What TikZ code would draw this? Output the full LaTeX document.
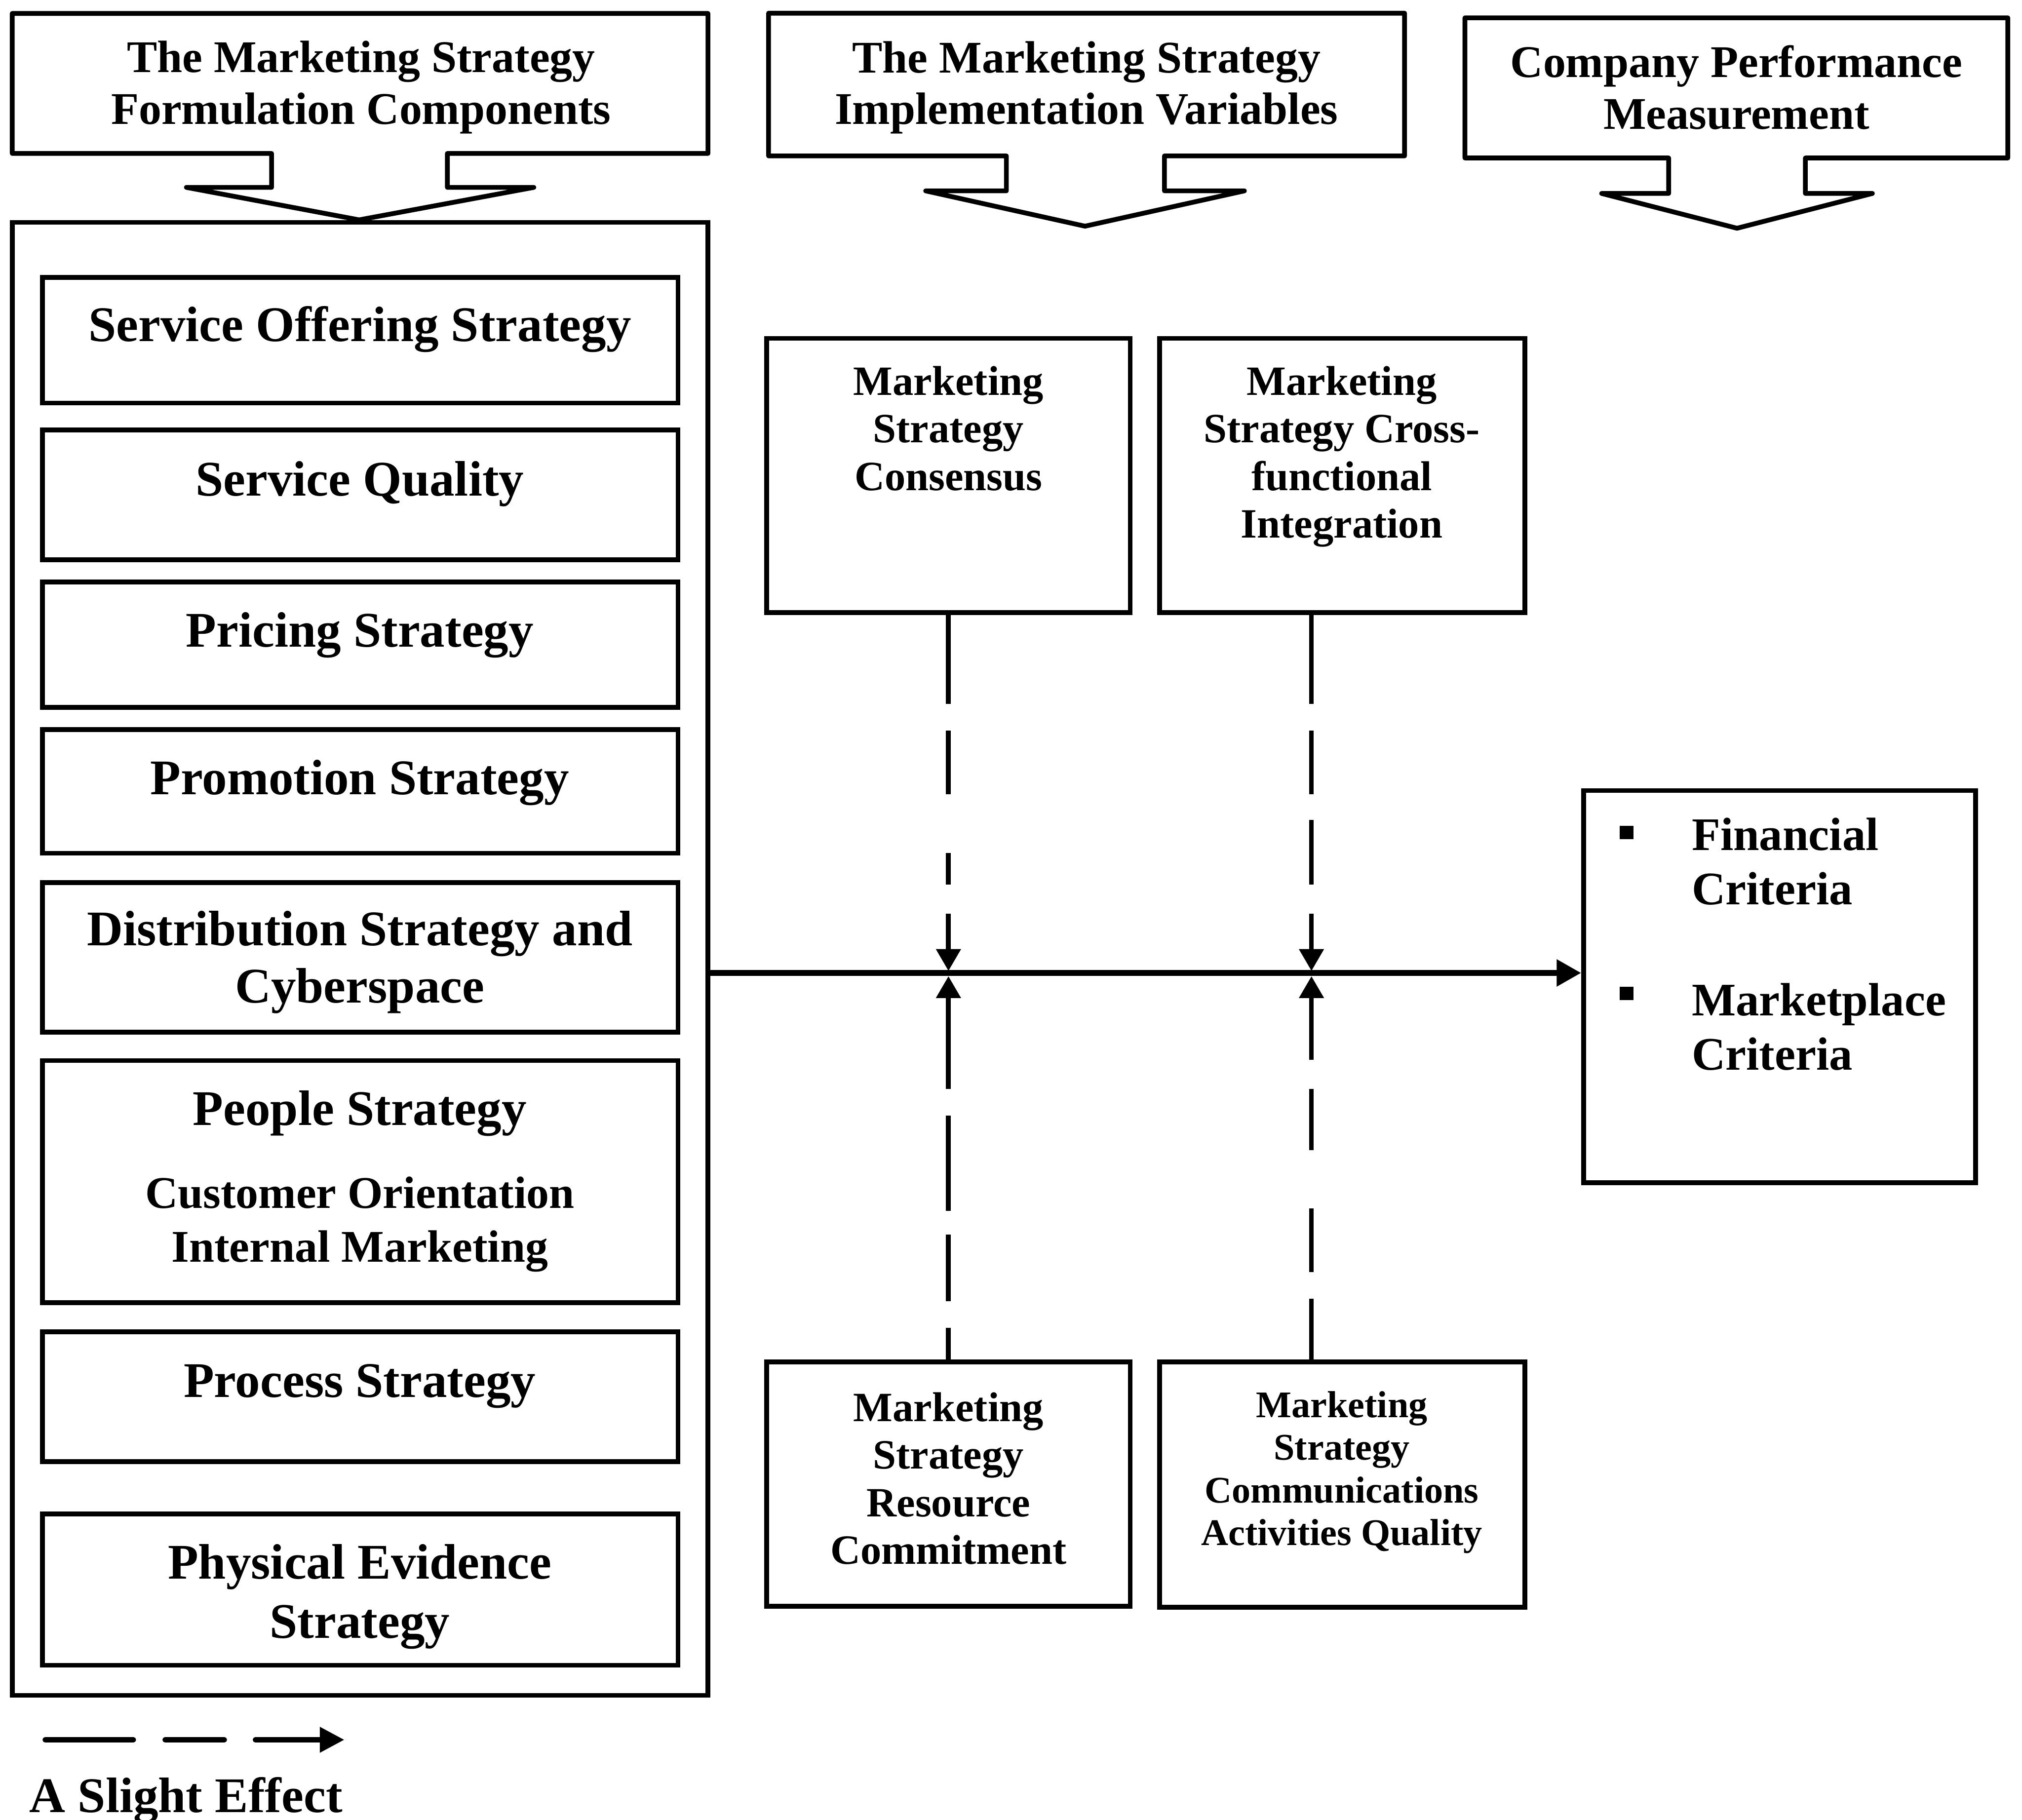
\documentclass[tikz,border=0pt]{standalone}
\usepackage{fontspec}
\setmainfont{Liberation Serif}
\usetikzlibrary{arrows.meta,fit}
\newcommand\setfs[2]{\fontsize{#1}{#2}\selectfont}
\begin{document}
\begin{tikzpicture}[x=0.1mm,y=-0.1mm,
  frame/.style={draw, line width=1.05pt, inner sep=0pt},
  calloutline/.style={draw, line width=1.05pt, line join=round},
  txt/.style={inner sep=0pt, outer sep=0pt, align=center},
  headfont/.style={txt, font=\bfseries\setfs{10}{11.4}},
  compfont/.style={txt, font=\bfseries\setfs{11}{12.8}},
  subfont/.style={txt, font=\bfseries\setfs{10}{11.9}},
  varfont/.style={txt, font=\bfseries\setfs{9.2}{10.5}},
  smallvarfont/.style={txt, font=\bfseries\setfs{8.3}{9.4}},
  critfont/.style={txt, align=left, font=\bfseries\setfs{10.3}{11.95}},
  link/.style={line width=1.05pt, -{Triangle[length=1.7mm,width=1.85mm]}},
  bulletsq/.style={fill, inner sep=0pt, minimum size=1.05mm},
]
\fill[white] (0,0) rectangle (1568,1411.4);
\useasboundingbox (0,0) rectangle (1568,1411.4);

% ---------- header callouts ----------
\draw[calloutline] (210.6,119) -- (9.5,119) -- (9.5,10.4) -- (549,10.4) -- (549,119)
  -- (346.9,119) -- (346.9,145.3) -- (414,145.3) -- (278.5,170.5) -- (144.5,145.3)
  -- (210.6,145.3) -- cycle;
\node[headfont, anchor=north] (hform) at (280,31.7)
  {The Marketing Strategy\\Formulation Components};

\draw[calloutline] (780.4,120.9) -- (596,120.9) -- (596,10.2) -- (1089.2,10.2) -- (1089.2,120.9)
  -- (903,120.9) -- (903,148) -- (965,148) -- (841.4,175.4) -- (717.8,148)
  -- (780.4,148) -- cycle;
\node[headfont, anchor=north] (himpl) at (842.5,32)
  {The Marketing Strategy\\Implementation Variables};

\draw[calloutline] (1294,122.5) -- (1136,122.5) -- (1136,13.8) -- (1557,13.8) -- (1557,122.5)
  -- (1400,122.5) -- (1400,150) -- (1452,150) -- (1347,177) -- (1242,150)
  -- (1294,150) -- cycle;
\node[headfont, anchor=north] (hperf) at (1346.5,35.3)
  {Company Performance\\Measurement};

% ---------- formulation components ----------
\node[frame, fit={(9.6,172.4) (548.9,1314.8)}] (big) {};

\node[frame, fit={(32.8,215.2) (525.8,312.6)}] (s1) {};
\node[compfont, anchor=base] (t1) at (279,264.6) {Service Offering Strategy};

\node[frame, fit={(32.8,333.4) (525.8,434.1)}] (s2) {};
\node[compfont, anchor=base] (t2) at (279,384.7) {Service Quality};

\node[frame, fit={(32.8,451.3) (525.8,548.6)}] (s3) {};
\node[compfont, anchor=base] (t3) at (279,501.8) {Pricing Strategy};

\node[frame, fit={(32.8,565.8) (525.8,661.7)}] (s4) {};
\node[compfont, anchor=base] (t4) at (279,616.3) {Promotion Strategy};

\node[frame, fit={(32.8,684.5) (525.8,800.5)}] (s5) {};
\node[compfont, font=\bfseries\setfs{11}{12.6}, anchor=north] (t5) at (279,706.6)
  {Distribution Strategy and\\Cyberspace};

\node[frame, fit={(32.8,822.5) (525.8,1010.2)}] (s6) {};
\node[compfont, anchor=base] (t6) at (279,872.6) {People Strategy};
\node[subfont, anchor=north] (t6b) at (279,912.5) {Customer Orientation\\Internal Marketing};

\node[frame, fit={(32.8,1032.9) (525.8,1133.5)}] (s7) {};
\node[compfont, anchor=base] (t7) at (279,1083.4) {Process Strategy};

\node[frame, fit={(32.8,1174) (525.8,1291.4)}] (s8) {};
\node[compfont, font=\bfseries\setfs{11}{13.1}, anchor=north] (t8) at (279,1197.6)
  {Physical Evidence\\Strategy};

% ---------- implementation variables ----------
\node[frame, fit={(594.5,262.4) (876.5,475)}] (msc) {};
\node[varfont, anchor=north] (msct) at (735.5,284) {Marketing\\Strategy\\Consensus};

\node[frame, fit={(899.2,262.4) (1182.5,475)}] (mscfi) {};
\node[varfont, anchor=north] (mscfit) at (1040.5,284)
  {Marketing\\Strategy Cross-\\functional\\Integration};

\node[frame, fit={(594.5,1056.2) (876.5,1245.6)}] (msrc) {};
\node[varfont, anchor=north] (msrct) at (735.5,1079.8)
  {Marketing\\Strategy\\Resource\\Commitment};

\node[frame, fit={(899.2,1056.2) (1182.5,1246.5)}] (mscaq) {};
\node[smallvarfont, anchor=north] (mscaqt) at (1040.5,1079)
  {Marketing\\Strategy\\Communications\\Activities Quality};

% ---------- performance measurement ----------
\node[frame, fit={(1228,613.1) (1532,917.1)}] (perf) {};
\node[bulletsq] (bu1) at (1261.3,645.7) {};
\node[critfont, anchor=north west] (fin) at (1312,634.2) {Financial\\Criteria};
\node[bulletsq] (bu2) at (1261.3,770.4) {};
\node[critfont, anchor=north west] (mkt) at (1312,762.5) {Marketplace\\Criteria};

% ---------- connectors ----------
\coordinate (jA) at (735.5,754.5);
\coordinate (jB) at (1017,754.5);

\draw[line width=1.25pt, -{Triangle[length=1.9mm,width=2mm]}]
  (big.east |- jA) -- (perf.west |- jA);

\draw[link, shorten >=0.15mm,
      dash pattern=on 6.92mm off 2.06mm on 4.94mm off 4.53mm on 2.47mm off 2.27mm on 20mm]
  (msc.south) -- (jA);
\draw[link, shorten >=0.15mm,
      dash pattern=on 6.92mm off 2.06mm on 4.94mm off 1.98mm on 5.02mm off 2.27mm on 20mm]
  (jB |- mscfi.south) -- (jB);
\draw[link, shorten >=0.25mm,
      dash pattern=on 2.47mm off 2.06mm on 5.15mm off 1.85mm on 7.41mm off 2.06mm on 20mm]
  (msrc.north) -- (jA);
\draw[link, shorten >=0.25mm,
      dash pattern=on 4.73mm off 2.06mm on 4.94mm off 4.53mm on 4.74mm off 2.26mm on 20mm]
  (jB |- mscaq.north) -- (jB);

% ---------- legend ----------
\coordinate (lgA) at (35,1349.2);
\coordinate (lgB) at (267,1349.2);
\draw[line width=1.15pt, line cap=round,
      dash pattern=on 6.85mm off 2.45mm on 4.6mm off 2.4mm on 20mm,
      -{Triangle[length=1.9mm,width=1.9mm]}] (lgA) -- (lgB);
\node[compfont, anchor=base west] (slight) at (22.9,1405.4) {A Slight Effect};
\end{tikzpicture}
\end{document}
